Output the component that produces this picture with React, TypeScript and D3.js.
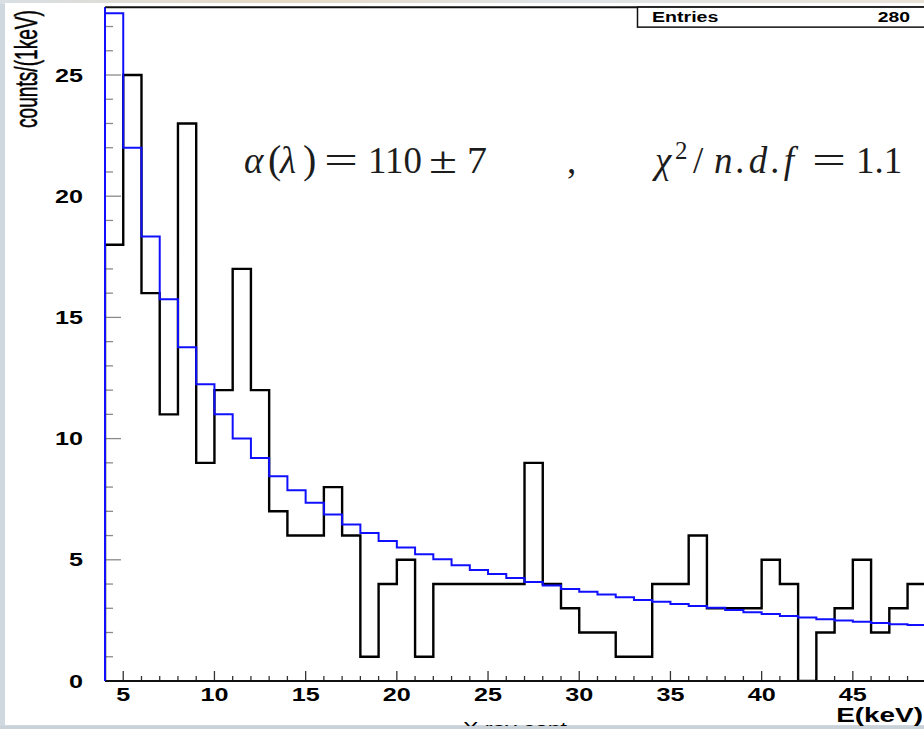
import React from 'react';
import * as d3 from 'd3';

// Histogram bins: 1 keV wide, starting at 4 keV
const binStart = 4;
const binWidth = 1;
const dataCounts = [18, 25, 16, 11, 23, 9, 12, 17, 12, 7, 6, 6, 8, 6, 1, 4, 5, 1, 4, 4, 4, 4, 4, 9, 4, 3, 2, 2, 1, 1, 4, 4, 6, 3, 3, 3, 5, 4, 0, 2, 3, 5, 2, 3, 4];
const fitValues = [27.55, 22.0, 18.34, 15.75, 13.77, 12.24, 11.0, 10.0, 9.2, 8.45, 7.87, 7.35, 6.87, 6.46, 6.11, 5.78, 5.51, 5.23, 5.02, 4.78, 4.58, 4.41, 4.25, 4.08, 3.94, 3.8, 3.68, 3.57, 3.45, 3.34, 3.27, 3.18, 3.09, 3.02, 2.93, 2.84, 2.76, 2.68, 2.62, 2.55, 2.5, 2.44, 2.39, 2.34, 2.31];
const xTickLabels = [5, 10, 15, 20, 25, 30, 35, 40, 45];
const yTickLabels = [0, 5, 10, 15, 20, 25];
const entries = 280;

const W = 924;
const H = 729;

export default function App() {
  const xMin = binStart;
  const xMax = binStart + dataCounts.length * binWidth;
  const x = d3.scaleLinear().domain([xMin, xMax]).range([105, 105 + (xMax - xMin) * 18.24]);
  const y = d3.scaleLinear().domain([0, 27.8]).range([681, 681 - 27.8 * 24.24]);

  const stepPoints = (vals: number[]): [number, number][] => {
    const pts: [number, number][] = [[xMin, 0]];
    vals.forEach((v, i) => {
      const lo = xMin + i * binWidth;
      pts.push([lo, v]);
      pts.push([lo + binWidth, v]);
    });
    pts.push([xMax, 0]);
    return pts;
  };
  const line = d3.line<[number, number]>().x(d => x(d[0])).y(d => y(d[1]));
  const dataPath = line(stepPoints(dataCounts)) || '';
  const fitPath = line(stepPoints(fitValues)) || '';

  const x0 = x(xMin);
  const yTop = y(27.8);
  const yBot = y(0);

  const yMinor = d3.range(0, 28, 1);
  const xMinor = d3.range(xMin, xMax + 0.001, 1);

  const sans = "'Liberation Sans', Arial, sans-serif";
  const serif = "'Liberation Serif', 'Times New Roman', serif";
  const fc = '#1c1c1c';

  return (
    <svg width={W} height={H} style={{ position: 'absolute', left: 0, top: 0 }}>
      <defs>
        <linearGradient id="topg" x1="0" x2="1" y1="0" y2="0">
          <stop offset="0" stopColor="#d9dfe4" />
          <stop offset="0.3" stopColor="#e6d9c4" />
          <stop offset="0.6" stopColor="#dfe3e6" />
          <stop offset="1" stopColor="#e8e2d6" />
        </linearGradient>
        <clipPath id="plotclip">
          <rect x={x0} y={yTop} width={W - x0} height={yBot - yTop} />
        </clipPath>
      </defs>
      <rect x={0} y={0} width={W} height={H} fill="#cfd8de" />
      <rect x={0} y={0} width={W} height={4} fill="url(#topg)" />
      <rect x={5} y={3} width={W - 5} height={722} fill="#ffffff" />

      {/* frame */}
      <line x1={x0} y1={yTop} x2={W} y2={yTop} stroke="#111" strokeWidth={2} />

      {/* y ticks */}
      {yMinor.map(v => (
        <line key={'yt' + v} x1={x0} x2={x0 + (v % 5 === 0 ? 16 : 8)} y1={y(v)} y2={y(v)} stroke="#8a8a8a" strokeWidth={1.3} />
      ))}
      {/* x ticks */}
      {xMinor.map(v => (
        <line key={'xt' + v} x1={x(v)} x2={x(v)} y1={yBot} y2={yBot - (v % 5 === 0 ? 10 : 5)} stroke="#333" strokeWidth={1.3} />
      ))}

      <g clipPath="url(#plotclip)">
        <path d={dataPath} fill="none" stroke="#000" strokeWidth={2.4} />
        <path d={fitPath} fill="none" stroke="#1010ff" strokeWidth={2} />
      </g>

      {/* axes lines */}
      <line x1={x0} y1={yTop} x2={x0} y2={yBot} stroke="#111" strokeWidth={2} />
      <line x1={x0} y1={yBot} x2={W} y2={yBot} stroke="#111" strokeWidth={2} />
      <line x1={x0} y1={yTop} x2={x0} y2={yBot} stroke="#1010ff" strokeWidth={2} />

      {/* y tick labels */}
      {yTickLabels.map(v => (
        <text key={'yl' + v} transform={`translate(83,${y(v) + 6.5}) scale(1.4,1)`} textAnchor="end" fontFamily={sans} fontWeight="bold" fontSize={18} fill="#000">{v}</text>
      ))}
      {/* x tick labels */}
      {xTickLabels.map(v => (
        <text key={'xl' + v} transform={`translate(${x(v)},${701}) scale(1.4,1)`} textAnchor="middle" fontFamily={sans} fontWeight="bold" fontSize={18} fill="#000">{v}</text>
      ))}

      {/* axis titles */}
      <text transform="translate(37,128) scale(1.5,1) rotate(-90)" fontFamily={sans} fontSize={21} textLength={118} lengthAdjust="spacingAndGlyphs" fill="#000" stroke="#000" strokeWidth={0.35}>counts/(1keV)</text>
      <text transform="translate(923,722) scale(1.33,1)" textAnchor="end" fontFamily={sans} fontWeight="bold" fontSize={21} fill="#000">E(keV)</text>
      <text x={463} y={735} fontFamily={sans} fontSize={18} textLength={104} lengthAdjust="spacingAndGlyphs" fill="#000">X ray cont</text>

      {/* stats box */}
      <rect x={637.5} y={yTop} width={W} height={20} fill="#fff" stroke="#111" strokeWidth={1.5} />
      <text transform={`translate(652,${yTop + 15}) scale(1.4,1)`} fontFamily={sans} fontWeight="bold" fontSize={14} fill="#000">Entries</text>
      <text transform={`translate(910,${yTop + 15}) scale(1.38,1)`} textAnchor="end" fontFamily={sans} fontWeight="bold" fontSize={14} fill="#000">{entries}</text>

      {/* formula */}
      <g fill={fc} fontFamily={serif} fontSize={37}>
        <text x={244} y={173} fontStyle="italic">α</text>
        <text x={268} y={173} fontSize={40}>(</text>
        <text x={280} y={173} fontStyle="italic">λ</text>
        <text x={303} y={173} fontSize={40}>)</text>
        <text x={324} y={173} textLength={34} lengthAdjust="spacingAndGlyphs">=</text>
        <text x={368} y={173} textLength={54} lengthAdjust="spacingAndGlyphs">110</text>
        <text x={429} y={173} textLength={28} lengthAdjust="spacingAndGlyphs">±</text>
        <text x={467} y={173} textLength={20} lengthAdjust="spacingAndGlyphs">7</text>
        <text x={567} y={173}>,</text>
        <text x={655} y={173} fontStyle="italic">χ</text>
        <text x={675} y={159} fontSize={25}>2</text>
        <text x={693} y={173}>/</text>
        <text x={714} y={173} fontStyle="italic" textLength={80} lengthAdjust="spacing">n.d.f</text>
        <text x={812} y={173} textLength={34} lengthAdjust="spacingAndGlyphs">=</text>
        <text x={856} y={173}>1.1</text>
      </g>

      {/* bottom strip */}
      <rect x={0} y={726} width={W} height={3} fill="#c9d2d8" />
    </svg>
  );
}
